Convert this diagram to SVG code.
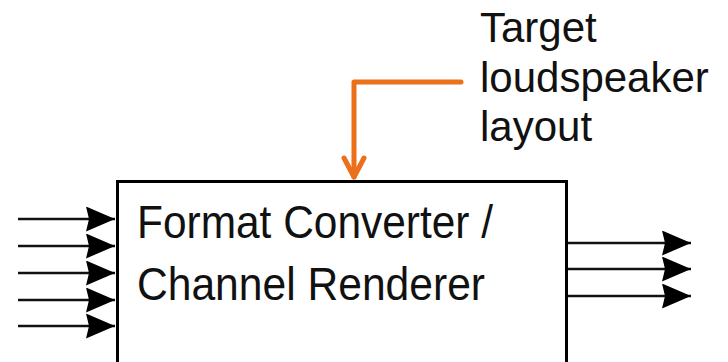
<svg xmlns="http://www.w3.org/2000/svg" width="728" height="362" viewBox="0 0 728 362">
<style>
.sig{stroke:#111;stroke-width:2.6;fill:none}
.head{fill:#000}
.lbl{font-family:"Liberation Sans",Arial,sans-serif;fill:#111}
.orange{stroke:#EC6F1A;stroke-width:5;fill:none;stroke-linecap:round;stroke-linejoin:round}
</style>
<defs>
<marker id="ah" markerUnits="userSpaceOnUse" markerWidth="32" markerHeight="28" refX="29" refY="12.5" orient="auto">
<path d="M0,0 L29,12.5 L0,25 L3,12.5 Z" class="head"/>
</marker>
</defs>
<rect width="728" height="362" fill="#fff"/>
<g id="node-converter">
<rect x="117.5" y="181.5" width="449" height="200" fill="#fff" stroke="#000" stroke-width="3"/>
<text class="lbl" font-size="42.5" transform="translate(137,238) scale(1,1.08)" textLength="356" lengthAdjust="spacingAndGlyphs">Format Converter /</text>
<text class="lbl" font-size="42.5" transform="translate(137,300) scale(1,1.08)" textLength="348" lengthAdjust="spacingAndGlyphs">Channel Renderer</text>
</g>
<g id="node-layout-label">
<text class="lbl" font-size="42" x="480" y="42">Target</text>
<text class="lbl" font-size="42" x="480" y="92">loudspeaker</text>
<text class="lbl" font-size="42" x="480" y="141">layout</text>
</g>
<g id="connectors">
<line class="sig" x1="18" y1="219" x2="115" y2="219" marker-end="url(#ah)"/>
<line class="sig" x1="18" y1="246" x2="115" y2="246" marker-end="url(#ah)"/>
<line class="sig" x1="18" y1="273" x2="115" y2="273" marker-end="url(#ah)"/>
<line class="sig" x1="18" y1="300" x2="115" y2="300" marker-end="url(#ah)"/>
<line class="sig" x1="18" y1="326" x2="115" y2="326" marker-end="url(#ah)"/>
<line class="sig" x1="568" y1="243" x2="691" y2="243" marker-end="url(#ah)"/>
<line class="sig" x1="568" y1="269" x2="691" y2="269" marker-end="url(#ah)"/>
<line class="sig" x1="568" y1="296" x2="691" y2="296" marker-end="url(#ah)"/>
<path class="orange" d="M461,82 L354,82 L354,177"/>
<path class="orange" d="M344,158 L354,177 L364,158"/>
</g>
</svg>
